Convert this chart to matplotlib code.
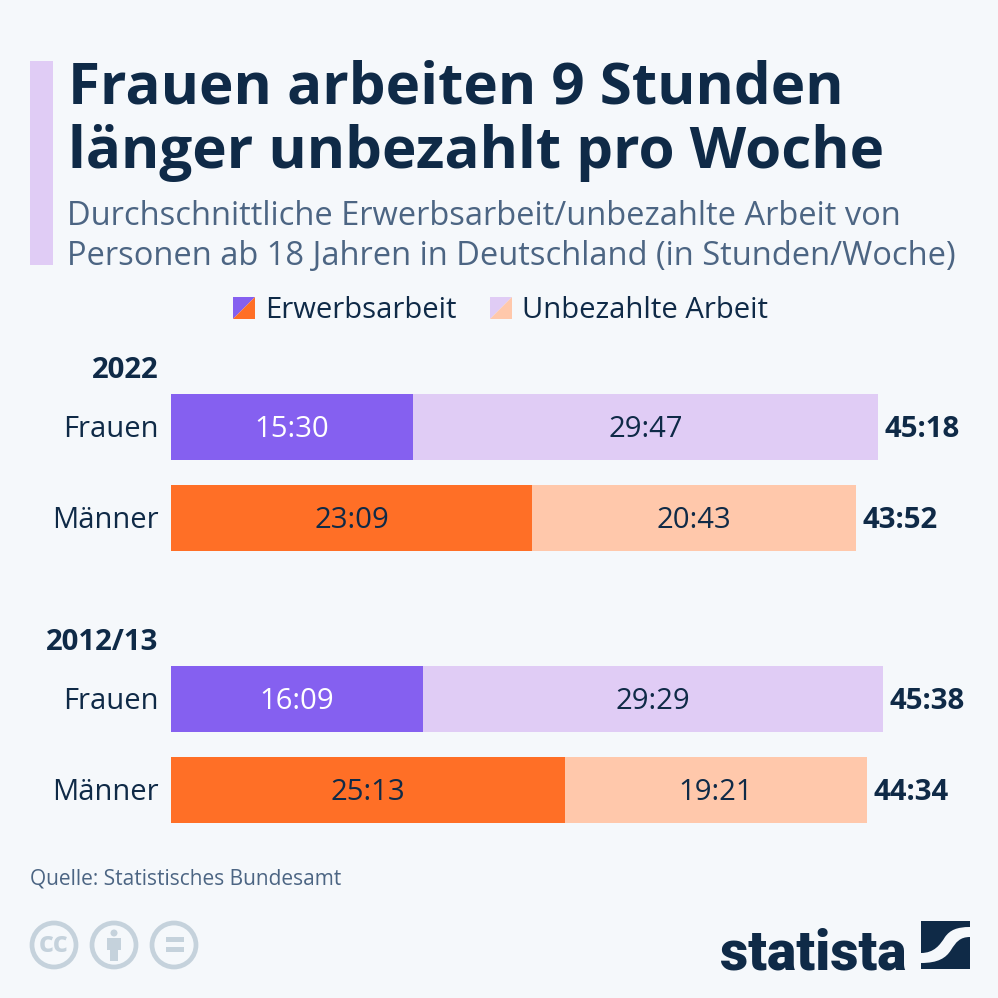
import matplotlib
matplotlib.use('Agg')
import matplotlib.pyplot as plt
from matplotlib.patches import Circle, Polygon, PathPatch, Rectangle
from matplotlib.path import Path

plt.rcParams['font.family'] = ['Open Sans', 'DejaVu Sans']

# data
groups = ['Frauen', 'Männer', 'Frauen', 'Männer']
years = ['2022', '2012/13']
paid = ['15:30', '23:09', '16:09', '25:13']
unpaid = ['29:47', '20:43', '29:29', '19:21']
totals = ['45:18', '43:52', '45:38', '44:34']


def to_hours(value):
    h, m = value.split(':')
    return int(h) + int(m) / 60


BG = '#f5f8fb'
DARK = '#0f2a47'
GREY = '#4c6583'
PURPLE = '#8560f0'
LIGHT_PURPLE = '#e0ccf5'
ORANGE = '#ff6f26'
LIGHT_ORANGE = '#ffc8ab'
ICON = '#c5d2dc'

fig = plt.figure(figsize=(9.98, 9.98), dpi=100, facecolor=BG)

# overlay in pixel coordinates for title, legend and footer
bg = fig.add_axes([0, 0, 1, 1])
bg.set_xlim(0, 998)
bg.set_ylim(998, 0)
bg.axis('off')

bg.add_patch(Rectangle((30, 61), 23, 204, color=LIGHT_PURPLE, lw=0))
bg.text(68, 88, 'Frauen arbeiten 9 Stunden', fontsize=42, fontweight='bold', color=DARK, va='center')
bg.text(68, 153, 'länger unbezahlt pro Woche', fontsize=42, fontweight='bold', color=DARK, va='center')
bg.text(67, 216, 'Durchschnittliche Erwerbsarbeit/unbezahlte Arbeit von', fontsize=23.5, color=GREY, va='center')
bg.text(67, 256, 'Personen ab 18 Jahren in Deutschland (in Stunden/Woche)', fontsize=23.5, color=GREY, va='center')

# legend swatches, split on the diagonal
for x0, c1, c2, label in [(233, PURPLE, ORANGE, 'Erwerbsarbeit'),
                          (490, LIGHT_PURPLE, LIGHT_ORANGE, 'Unbezahlte Arbeit')]:
    bg.add_patch(Polygon([(x0, 297), (x0 + 22, 297), (x0, 319)], color=c1, lw=0))
    bg.add_patch(Polygon([(x0 + 22, 297), (x0 + 22, 319), (x0, 319)], color=c2, lw=0))
    bg.text(x0 + 32.5, 310.5, label, fontsize=21.1, color=DARK, va='center')

bg.text(158.5, 371, years[0], fontsize=21.2, fontweight='bold', color=DARK, va='center', ha='right')
bg.text(158.5, 643, years[1], fontsize=21.2, fontweight='bold', color=DARK, va='center', ha='right')

# bars
ax = fig.add_axes([171 / 998, 0, 780 / 998, 1])
ax.patch.set_alpha(0)
ax.set_xlim(0, 780 / 15.61)
ax.set_ylim(998, 0)
ax.axis('off')

rows = [427, 518, 699, 790]
for i, y in enumerate(rows):
    p = to_hours(paid[i])
    u = to_hours(unpaid[i])
    is_woman = groups[i] == 'Frauen'
    ax.barh(y, p, height=66, color=PURPLE if is_woman else ORANGE, lw=0)
    ax.barh(y, u, left=p, height=66, color=LIGHT_PURPLE if is_woman else LIGHT_ORANGE, lw=0)
    ax.text(p / 2, y + 2.5, paid[i], fontsize=21.1, color='white' if is_woman else DARK, ha='center', va='center')
    ax.text(p + u / 2, y + 2.5, unpaid[i], fontsize=21.1, color=DARK, ha='center', va='center')
    ax.text(to_hours(totals[i]) + 0.42, y + 2.5, totals[i], fontsize=21.2, fontweight='bold', color=DARK, va='center')
    bg.text(159, y + 2.5, groups[i], fontsize=21, color=DARK, ha='right', va='center')

# footer
bg.text(30, 879.5, 'Quelle: Statistisches Bundesamt', fontsize=15, color=GREY, va='center')

for cx in [54, 114, 174]:
    bg.add_patch(Circle((cx, 945), 22, fc='none', ec=ICON, lw=3.4))
bg.text(54, 944, 'cc', fontsize=21, fontweight='bold', color=ICON, ha='center', va='center')
bg.add_patch(Circle((114, 933), 3.5, color=ICON, lw=0))
bg.add_patch(Polygon([(107, 938), (121, 938), (121, 950), (118, 950), (118, 961),
                      (110, 961), (110, 950), (107, 950)], color=ICON, lw=0))
bg.add_patch(Rectangle((166, 937), 18, 5, color=ICON, lw=0))
bg.add_patch(Rectangle((166, 947), 18, 5, color=ICON, lw=0))

# logo
bg.text(907, 969, 'statista', fontsize=39.5, fontweight='black', color=DARK, ha='right', va='baseline',
        family='Roboto')
bg.add_patch(Rectangle((921, 921), 49, 48, color=DARK, lw=0))
swoosh = Path([(921, 953), (934, 953), (940, 945), (945, 937), (950, 930), (957, 927), (970, 927),
               (970, 937), (960, 937), (956, 942), (951, 950), (946, 958), (938, 963), (921, 963), (921, 953)],
              [Path.MOVETO, Path.CURVE4, Path.CURVE4, Path.CURVE4, Path.CURVE4, Path.CURVE4, Path.CURVE4,
               Path.LINETO, Path.CURVE4, Path.CURVE4, Path.CURVE4, Path.CURVE4, Path.CURVE4, Path.CURVE4, Path.CLOSEPOLY])
bg.add_patch(PathPatch(swoosh, fc=BG, ec='none'))

fig.savefig('out.png', dpi=100, facecolor=BG)
